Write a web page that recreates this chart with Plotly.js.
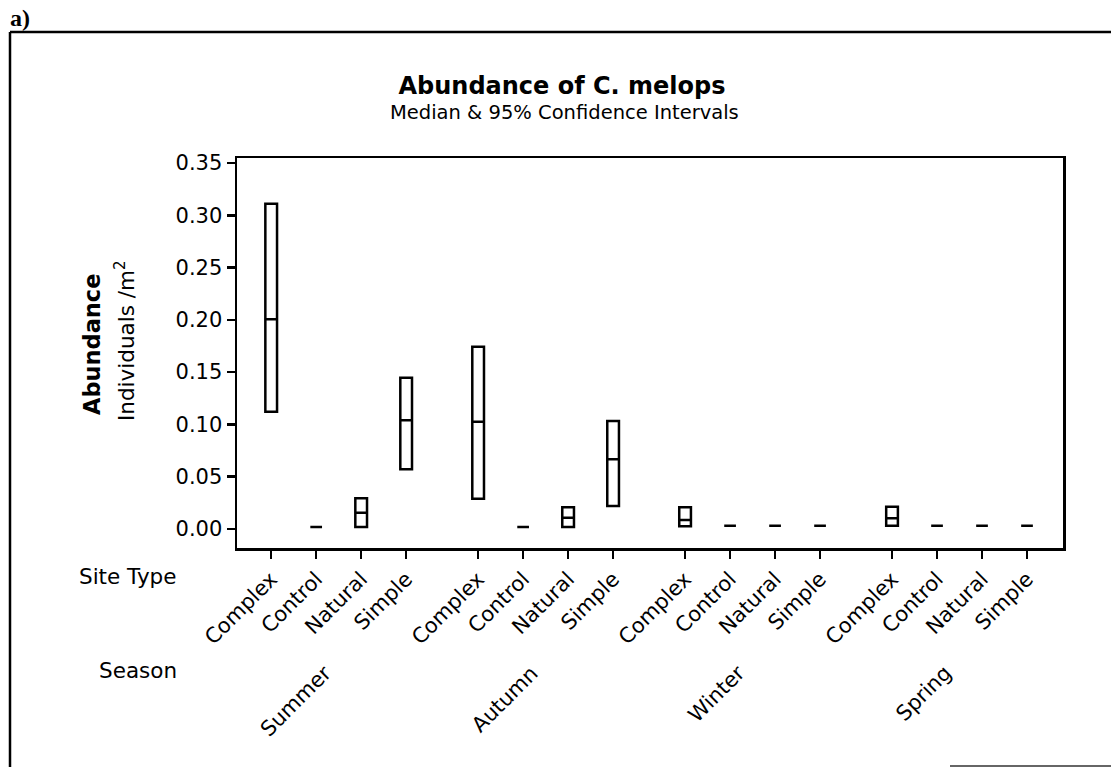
<!DOCTYPE html>
<html>
<head>
<meta charset="utf-8">
<script src="https://cdn.plot.ly/plotly-3.0.1.min.js"></script>
<style>
  html, body { margin: 0; padding: 0; background: #fff; }
  #chart { width: 1111px; height: 767px; }
</style>
</head>
<body>
<div id="chart"></div>
<script>
// ---- data ----
const seasons = ['Summer', 'Autumn', 'Winter', 'Spring'];
const siteTypes = ['Complex', 'Control', 'Natural', 'Simple'];

// order: Summer(Complex, Control, Natural, Simple), Autumn(...), Winter(...), Spring(...)
const lowerCI = [0.112, 0.002, 0.002, 0.057,
                 0.029, 0.002, 0.002, 0.022,
                 0.0026, 0.003, 0.003, 0.003,
                 0.003, 0.003, 0.003, 0.003];
const medianVals = [0.2005, 0.002, 0.0156, 0.104,
                    0.1026, 0.002, 0.0108, 0.0666,
                    0.0086, 0.003, 0.003, 0.003,
                    0.0102, 0.003, 0.003, 0.003];
const upperCI = [0.311, 0.002, 0.0293, 0.1447,
                 0.1743, 0.002, 0.0207, 0.1033,
                 0.0207, 0.003, 0.003, 0.003,
                 0.0213, 0.003, 0.003, 0.003];

const yTickVals = [0, 0.05, 0.10, 0.15, 0.20, 0.25, 0.30, 0.35];

// ---- layout helpers ----
const GROUP_STEP = 4.6;   // spacing between season groups (in site units)
const xPos = [], xLabels = [];
seasons.forEach((s, g) => {
  siteTypes.forEach((t, i) => {
    xPos.push(g * GROUP_STEP + i);
    xLabels.push(t);
  });
});
const groupCenters = seasons.map((s, g) => g * GROUP_STEP + (siteTypes.length - 1) / 2);

const FONT = 'Verdana, "DejaVu Sans", sans-serif';
const BLACK = '#000';

// pixel -> paper helpers (plot area: x 237..1063, y 158..548)
const px = v => (v - 237) / 826;
const py = v => (548 - v) / 390;

const trace = {
  type: 'box',
  x: xPos,
  q1: lowerCI,
  median: medianVals,
  q3: upperCI,
  lowerfence: lowerCI,
  upperfence: upperCI,
  width: 0.26,
  boxpoints: false,
  fillcolor: 'rgba(0,0,0,0)',
  line: { color: BLACK, width: 2.5 },
  whiskerwidth: 0,
  showlegend: false,
  hoverinfo: 'y'
};

const annotations = [
  // subtitle
  { text: 'Median & 95% Confidence Intervals', xref: 'paper', yref: 'paper',
    x: px(564), y: py(112), xanchor: 'center', yanchor: 'middle',
    showarrow: false, font: { family: FONT, size: 19.5, color: BLACK } },
  // y-axis titles
  { text: '<b>Abundance</b>', xref: 'paper', yref: 'paper',
    x: px(92), y: py(345), textangle: -90,
    xanchor: 'center', yanchor: 'middle', showarrow: false,
    font: { family: FONT, size: 22.5, color: BLACK } },
  { text: 'Individuals /m<sup>2</sup>', xref: 'paper', yref: 'paper',
    x: px(125), y: py(341), textangle: -90,
    xanchor: 'center', yanchor: 'middle', showarrow: false,
    font: { family: FONT, size: 21.5, color: BLACK } },
  // row labels
  { text: 'Site Type', xref: 'paper', yref: 'paper',
    x: px(179), y: py(576), xanchor: 'right', yanchor: 'middle',
    showarrow: false, font: { family: FONT, size: 21.5, color: BLACK } },
  { text: 'Season', xref: 'paper', yref: 'paper',
    x: px(179), y: py(670), xanchor: 'right', yanchor: 'middle',
    showarrow: false, font: { family: FONT, size: 21.5, color: BLACK } },
  // panel letter
  { text: '<b>a)</b>', xref: 'paper', yref: 'paper',
    x: px(8), y: py(3), xanchor: 'left', yanchor: 'top',
    showarrow: false, font: { family: '"Liberation Serif", "Times New Roman", serif', size: 24, color: BLACK } }
];

// season labels (rotated), anchored under each group's centre
seasons.forEach((s, g) => {
  annotations.push({
    text: s, xref: 'x', yref: 'paper',
    x: groupCenters[g], y: py(658),
    xanchor: 'right', yanchor: 'top', textangle: -45,
    showarrow: false, font: { family: FONT, size: 21, color: BLACK }
  });
});

const shapes = [
  // outer figure frame (top & left), as in the reference scan
  { type: 'line', xref: 'paper', yref: 'paper',
    x0: px(10), x1: px(1111), y0: py(32), y1: py(32),
    line: { color: BLACK, width: 2.5 } },
  { type: 'line', xref: 'paper', yref: 'paper',
    x0: px(10), x1: px(10), y0: py(32), y1: py(767),
    line: { color: BLACK, width: 2.5 } },
  // faint scan line at bottom right
  { type: 'line', xref: 'paper', yref: 'paper',
    x0: px(950), x1: px(1111), y0: py(766), y1: py(766),
    line: { color: '#666', width: 2 } }
];

const layout = {
  width: 1111,
  height: 767,
  paper_bgcolor: '#fff',
  plot_bgcolor: '#fff',
  margin: { l: 237, r: 48, t: 158, b: 219, pad: 0 },
  title: {
    text: '<b>Abundance of C. melops</b>',
    xref: 'paper', x: px(562), xanchor: 'center',
    yref: 'container', y: 1 - 86 / 767, yanchor: 'middle',
    font: { family: FONT, size: 24, color: BLACK }
  },
  xaxis: {
    range: [-0.76, 17.6],
    tickmode: 'array',
    tickvals: xPos,
    ticktext: xLabels,
    tickangle: -45,
    ticks: 'outside',
    ticklen: 8,
    tickwidth: 2.5,
    tickcolor: BLACK,
    showline: true,
    linecolor: BLACK,
    linewidth: 2.5,
    mirror: true,
    showgrid: false,
    zeroline: false,
    tickfont: { family: FONT, size: 21, color: BLACK }
  },
  yaxis: {
    range: [-0.0182, 0.3548],
    tickmode: 'array',
    tickvals: yTickVals,
    ticktext: yTickVals.map(v => v.toFixed(2)),
    ticks: 'outside',
    ticklen: 8,
    tickwidth: 2.5,
    tickcolor: BLACK,
    showline: true,
    linecolor: BLACK,
    linewidth: 2.5,
    mirror: true,
    showgrid: false,
    zeroline: false,
    tickfont: { family: FONT, size: 21, color: BLACK }
  },
  annotations: annotations,
  shapes: shapes
};

Plotly.newPlot('chart', [trace], layout, { displayModeBar: false, staticPlot: true });
</script>
</body>
</html>
